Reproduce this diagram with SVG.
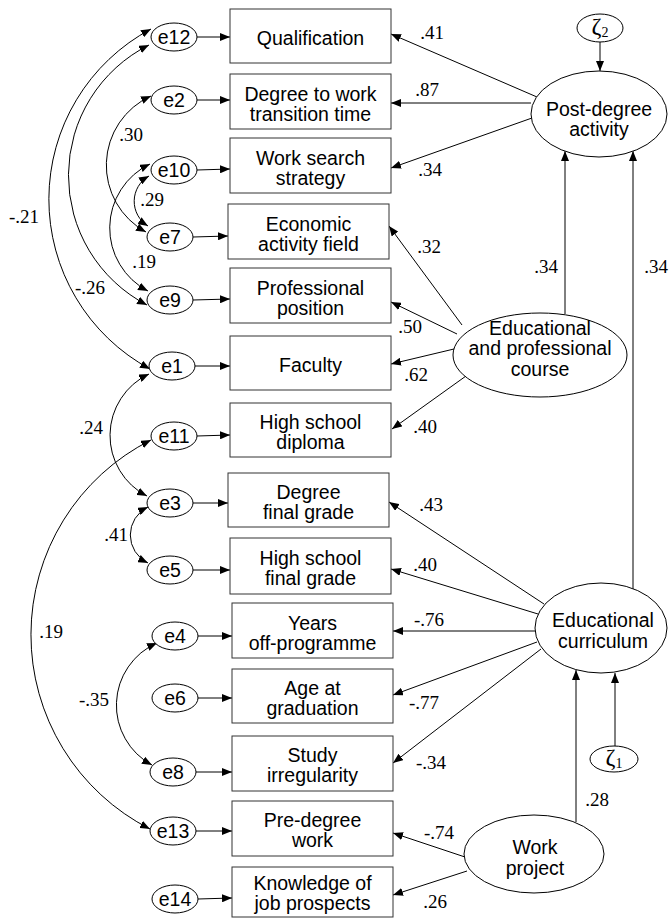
<svg xmlns="http://www.w3.org/2000/svg" width="672" height="919" viewBox="0 0 672 919">
<defs>
<marker id="ah" viewBox="0 0 10 8" refX="10" refY="4" markerWidth="10" markerHeight="8" markerUnits="userSpaceOnUse" orient="auto-start-reverse">
<path d="M0,0 L10,4 L0,8 z" fill="#000"/>
</marker>
<style>
.box{fill:#fff;stroke:#333;stroke-width:1}
.ell{fill:#fff;stroke:#000;stroke-width:1}
.t{font-family:"Liberation Sans",Arial,sans-serif;font-size:19.5px;fill:#000;text-anchor:middle}
.n{font-family:"Liberation Serif","DejaVu Serif","Times New Roman",serif;font-size:19px;fill:#000;text-anchor:middle}
.z{font-family:"Liberation Serif","DejaVu Serif","Times New Roman",serif;font-size:24px;fill:#000;text-anchor:middle}
.c{fill:none;stroke:#000;stroke-width:1;marker-end:url(#ah)}
.cc{fill:none;stroke:#000;stroke-width:1;marker-start:url(#ah);marker-end:url(#ah)}
</style>
</defs>
<rect width="672" height="919" fill="#fff"/>

<g id="connectors">
<line class="c" x1="197" y1="37" x2="230" y2="37"/>
<line class="c" x1="197" y1="100" x2="230" y2="100"/>
<line class="c" x1="197" y1="170" x2="230" y2="169"/>
<line class="c" x1="193" y1="237" x2="228" y2="236"/>
<line class="c" x1="193" y1="300" x2="230" y2="299"/>
<line class="c" x1="195" y1="366" x2="230" y2="366"/>
<line class="c" x1="197" y1="436" x2="230" y2="435"/>
<line class="c" x1="193" y1="503" x2="228" y2="503"/>
<line class="c" x1="193" y1="570" x2="230" y2="570"/>
<line class="c" x1="198" y1="636" x2="232" y2="636"/>
<line class="c" x1="198" y1="698" x2="232" y2="698"/>
<line class="c" x1="196" y1="772" x2="232" y2="772"/>
<line class="c" x1="196" y1="831" x2="232" y2="831"/>
<line class="c" x1="198" y1="899" x2="232" y2="898"/>
<path class="cc" d="M151,29 A193,193 0 0 0 150,369"/>
<path class="cc" d="M149,45 A146,146 0 0 0 147,305"/>
<path class="cc" d="M151,96 A76,76 0 0 0 146,232"/>
<path class="cc" d="M149,176 A29,29 0 0 0 148,226"/>
<path class="cc" d="M150,164 A71,71 0 0 0 148,291"/>
<path class="cc" d="M149,374 A68,68 0 0 0 147,496"/>
<path class="cc" d="M148,507 A31,31 0 0 0 148,563"/>
<path class="cc" d="M151,440 A218,218 0 0 0 150,829"/>
<path class="cc" d="M157,643 A68,68 0 0 0 152,765"/>
<line class="c" x1="600" y1="42" x2="600" y2="71"/>
<line class="c" x1="565" y1="314" x2="565" y2="151"/>
<line class="c" x1="633" y1="589" x2="633" y2="151"/>
<line class="c" x1="576" y1="822" x2="576" y2="670"/>
<line class="c" x1="615" y1="746" x2="615" y2="673"/>
<line class="c" x1="537" y1="97" x2="391" y2="34"/>
<line class="c" x1="531" y1="103" x2="391" y2="103"/>
<line class="c" x1="532" y1="118" x2="391" y2="168"/>
<line class="c" x1="462" y1="325" x2="389" y2="226"/>
<line class="c" x1="457" y1="334" x2="391" y2="302"/>
<line class="c" x1="454" y1="349" x2="391" y2="364"/>
<line class="c" x1="466" y1="376" x2="392" y2="429"/>
<line class="c" x1="544" y1="604" x2="389" y2="502"/>
<line class="c" x1="538" y1="614" x2="391" y2="569"/>
<line class="c" x1="535" y1="631" x2="393" y2="631"/>
<line class="c" x1="537" y1="642" x2="393" y2="695"/>
<line class="c" x1="541" y1="649" x2="393" y2="763"/>
<line class="c" x1="465" y1="857" x2="393" y2="833"/>
<line class="c" x1="467" y1="871" x2="393" y2="895"/>
</g>

<g id="labels">
<text class="n" x="24" y="223">-.21</text>
<text class="n" x="90" y="294">-.26</text>
<text class="n" x="131" y="141">.30</text>
<text class="n" x="152" y="206">.29</text>
<text class="n" x="144" y="268">.19</text>
<text class="n" x="91" y="434">.24</text>
<text class="n" x="116" y="541">.41</text>
<text class="n" x="51" y="638">.19</text>
<text class="n" x="94" y="706">-.35</text>
<text class="n" x="432" y="39">.41</text>
<text class="n" x="427" y="96">.87</text>
<text class="n" x="430" y="176">.34</text>
<text class="n" x="429" y="253">.32</text>
<text class="n" x="546" y="273">.34</text>
<text class="n" x="656" y="273">.34</text>
<text class="n" x="410" y="333">.50</text>
<text class="n" x="416" y="381">.62</text>
<text class="n" x="425" y="433">.40</text>
<text class="n" x="431" y="511">.43</text>
<text class="n" x="425" y="571">.40</text>
<text class="n" x="429" y="626">-.76</text>
<text class="n" x="424" y="709">-.77</text>
<text class="n" x="431" y="769">-.34</text>
<text class="n" x="597" y="806">.28</text>
<text class="n" x="439" y="839">-.74</text>
<text class="n" x="435" y="908">.26</text>
</g>

<g id="box-qualification"><rect class="box" x="230" y="9" width="161" height="54"/><text class="t" x="310.5" y="45">Qualification</text></g>
<g id="box-degree-work"><rect class="box" x="230" y="74" width="161" height="55"/><text class="t" x="310.5" y="101">Degree to work</text><text class="t" x="310.5" y="121">transition time</text></g>
<g id="box-work-search"><rect class="box" x="230" y="138" width="161" height="55"/><text class="t" x="310.5" y="165">Work search</text><text class="t" x="310.5" y="185">strategy</text></g>
<g id="box-economic"><rect class="box" x="228" y="204" width="161" height="55"/><text class="t" x="308.5" y="231">Economic</text><text class="t" x="308.5" y="251">activity field</text></g>
<g id="box-professional"><rect class="box" x="230" y="268" width="161" height="55"/><text class="t" x="310.5" y="295">Professional</text><text class="t" x="310.5" y="315">position</text></g>
<g id="box-faculty"><rect class="box" x="230" y="336" width="161" height="54"/><text class="t" x="310.5" y="372">Faculty</text></g>
<g id="box-hs-diploma"><rect class="box" x="230" y="403" width="161" height="54"/><text class="t" x="310.5" y="429">High school</text><text class="t" x="310.5" y="449">diploma</text></g>
<g id="box-degree-grade"><rect class="box" x="228" y="473" width="161" height="54"/><text class="t" x="308.5" y="499">Degree</text><text class="t" x="308.5" y="519">final grade</text></g>
<g id="box-hs-grade"><rect class="box" x="230" y="538" width="161" height="56"/><text class="t" x="310.5" y="565">High school</text><text class="t" x="310.5" y="585">final grade</text></g>
<g id="box-years"><rect class="box" x="232" y="603" width="161" height="55"/><text class="t" x="312.5" y="630">Years</text><text class="t" x="312.5" y="650">off-programme</text></g>
<g id="box-age"><rect class="box" x="232" y="669" width="161" height="54"/><text class="t" x="312.5" y="695">Age at</text><text class="t" x="312.5" y="715">graduation</text></g>
<g id="box-study"><rect class="box" x="232" y="736" width="161" height="55"/><text class="t" x="312.5" y="762">Study</text><text class="t" x="312.5" y="782">irregularity</text></g>
<g id="box-predegree"><rect class="box" x="232" y="801" width="161" height="55"/><text class="t" x="312.5" y="827">Pre-degree</text><text class="t" x="312.5" y="847">work</text></g>
<g id="box-knowledge"><rect class="box" x="232" y="867" width="161" height="50"/><text class="t" x="312.5" y="890">Knowledge of</text><text class="t" x="312.5" y="910">job prospects</text></g>

<g id="e12"><ellipse class="ell" cx="174" cy="37" rx="23" ry="14"/><text class="t" x="174" y="44">e12</text></g>
<g id="e2"><ellipse class="ell" cx="174" cy="100" rx="23" ry="14"/><text class="t" x="174" y="107">e2</text></g>
<g id="e10"><ellipse class="ell" cx="174" cy="170" rx="23" ry="14"/><text class="t" x="174" y="177">e10</text></g>
<g id="e7"><ellipse class="ell" cx="170" cy="237" rx="23" ry="14"/><text class="t" x="170" y="244">e7</text></g>
<g id="e9"><ellipse class="ell" cx="170" cy="300" rx="23" ry="14"/><text class="t" x="170" y="307">e9</text></g>
<g id="e1"><ellipse class="ell" cx="172" cy="366" rx="23" ry="14"/><text class="t" x="172" y="373">e1</text></g>
<g id="e11"><ellipse class="ell" cx="174" cy="436" rx="23" ry="14"/><text class="t" x="174" y="443">e11</text></g>
<g id="e3"><ellipse class="ell" cx="170" cy="503" rx="23" ry="14"/><text class="t" x="170" y="510">e3</text></g>
<g id="e5"><ellipse class="ell" cx="170" cy="570" rx="23" ry="14"/><text class="t" x="170" y="577">e5</text></g>
<g id="e4"><ellipse class="ell" cx="175" cy="636" rx="23" ry="14"/><text class="t" x="175" y="643">e4</text></g>
<g id="e6"><ellipse class="ell" cx="175" cy="698" rx="23" ry="14"/><text class="t" x="175" y="705">e6</text></g>
<g id="e8"><ellipse class="ell" cx="173" cy="772" rx="23" ry="14"/><text class="t" x="173" y="779">e8</text></g>
<g id="e13"><ellipse class="ell" cx="173" cy="831" rx="23" ry="14"/><text class="t" x="173" y="838">e13</text></g>
<g id="e14"><ellipse class="ell" cx="175" cy="899" rx="23" ry="14"/><text class="t" x="175" y="906">e14</text></g>

<g id="zeta2"><ellipse class="ell" cx="600" cy="28" rx="23" ry="14"/><text class="z" x="600" y="34">ζ<tspan font-size="14" dy="3">2</tspan></text></g>
<g id="post-degree"><ellipse class="ell" cx="599" cy="114" rx="68" ry="43"/><text class="t" x="599" y="116">Post-degree</text><text class="t" x="599" y="136">activity</text></g>
<g id="edu-prof-course"><ellipse class="ell" cx="540" cy="355" rx="87" ry="42"/><text class="t" x="540" y="335">Educational</text><text class="t" x="540" y="355">and professional</text><text class="t" x="540" y="376">course</text></g>
<g id="edu-curriculum"><ellipse class="ell" cx="601" cy="628" rx="66" ry="45"/><text class="t" x="603" y="627">Educational</text><text class="t" x="603" y="648">curriculum</text></g>
<g id="zeta1"><ellipse class="ell" cx="614" cy="759" rx="24" ry="13"/><text class="z" x="614" y="765">ζ<tspan font-size="14" dy="3">1</tspan></text></g>
<g id="work-project"><ellipse class="ell" cx="534" cy="854" rx="70" ry="39"/><text class="t" x="535" y="854">Work</text><text class="t" x="535" y="875">project</text></g>
</svg>
